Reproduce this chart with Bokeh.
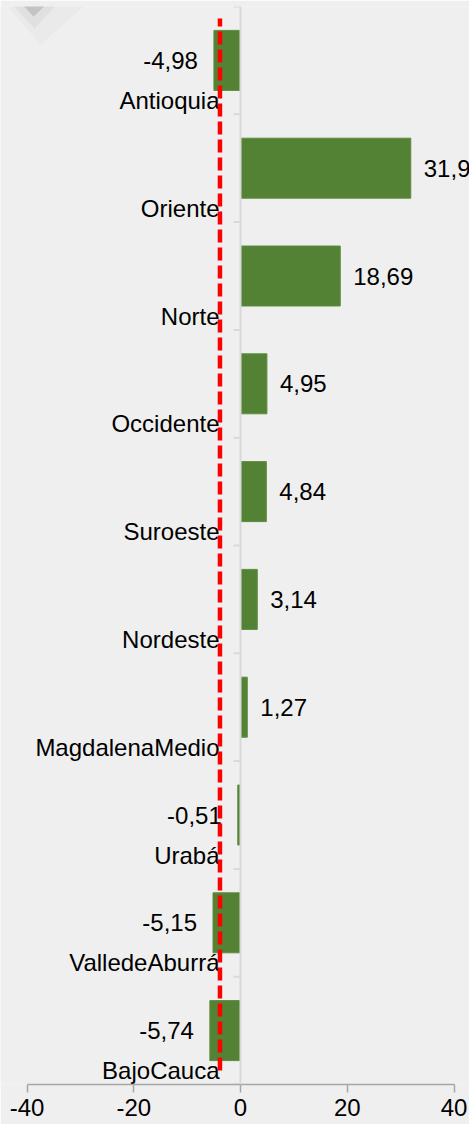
from bokeh.plotting import figure
from bokeh.models import ColumnDataSource, Range1d, FixedTicker, Span
from bokeh.core.properties import value
from bokeh.embed import file_html
from bokeh.resources import INLINE

# ---- data ----
categories = ["Antioquia", "Oriente", "Norte", "Occidente", "Suroeste", "Nordeste",
              "MagdalenaMedio", "Urabá", "ValledeAburrá", "BajoCauca"]
values = [-4.98, 31.9, 18.69, 4.95, 4.84, 3.14, 1.27, -0.51, -5.15, -5.74]
x_ticks = [-40, -20, 0, 20, 40]
x_tick_labels = ["-40", "-20", "0", "20", "40"]
reference_value = -3.85

# ---- layout (screen px) ----
W, H = 469, 1124
top_px, bottom_px = 6, 1084
frame_h = bottom_px - top_px
n = len(categories)
band_px = frame_h / n
zero_px = 240
px_per_unit = 427 / 80.0
x_start = -zero_px / px_per_unit
x_end = (W - zero_px) / px_per_unit

BG = "#efefef"
FONT = "Liberation Sans"
FS = "24px"

p = figure(width=W, height=H, output_backend="svg", toolbar_location=None,
           x_range=Range1d(x_start, x_end), y_range=Range1d(0, n),
           min_border_left=0, min_border_right=0, min_border_top=top_px,
           min_border_bottom=H - bottom_px)
p.background_fill_color = BG
p.border_fill_color = BG
p.outline_line_color = None
p.grid.visible = False
p.yaxis.visible = False

ax = p.xaxis[0]
ax.ticker = FixedTicker(ticks=x_ticks)
ax.major_label_overrides = {t: s for t, s in zip(x_ticks, x_tick_labels)}
ax.bounds = (x_ticks[0], x_ticks[-1])
ax.axis_line_color = "#a6a6a6"
ax.axis_line_width = 1.5
ax.major_tick_line_color = "#a6a6a6"
ax.major_tick_line_width = 1.5
ax.major_tick_out = 8
ax.major_tick_in = 0
ax.minor_tick_line_color = None
ax.major_label_text_font = FONT
ax.major_label_text_font_size = FS
ax.major_label_text_color = "#000000"
ax.major_label_standoff = 6

def sx(v):
    return (v - zero_px) / px_per_unit
def sy(v):
    return n - (v - top_px) / band_px

# decorative faint shape at top-left
p.patch([sx(2), sx(90), sx(40)], [sy(0), sy(0), sy(44)], color="#e2e2e2", alpha=0.35, line_color=None)
p.patch([sx(8), sx(60), sx(34)], [sy(0), sy(0), sy(28)], color="#d2d2d2", alpha=0.4, line_color=None)
p.patch([sx(18), sx(50), sx(33)], [sy(0), sy(0), sy(16)], color="#a8a8a8", alpha=0.5, line_color=None)

# vertical zero axis line and its ticks
p.add_layout(Span(location=0, dimension="height", line_color="#d9d9d9", line_width=2))
bounds_y = list(range(n + 1))
p.segment(x0=[-7 / px_per_unit] * len(bounds_y), x1=[0] * len(bounds_y),
          y0=bounds_y, y1=bounds_y, line_color="#d9d9d9", line_width=2)

yc = [n - i - 0.5 for i in range(n)]
src = ColumnDataSource(dict(y=yc, v=values, cat=categories,
                            cat_y=[y - 40 / band_px for y in yc]))

p.hbar(y="y", right="v", left=0, height=60 / band_px, source=src,
       fill_color="#548235", line_color="#5e8c3e", line_width=1)

p.text(x=0, y="cat_y", text="cat", source=src, x_offset=-21,
       text_align="right", text_baseline="middle",
       text_font=value(FONT), text_font_size=FS, text_color="#000000")

neg = ColumnDataSource(dict(x=[v for v in values if v < 0], y=[y for y, v in zip(yc, values) if v < 0],
                            t=[str(v).replace(".", ",") for v in values if v < 0]))
pos = ColumnDataSource(dict(x=[v for v in values if v >= 0], y=[y for y, v in zip(yc, values) if v >= 0],
                            t=[str(v).replace(".", ",") for v in values if v >= 0]))
p.text(x="x", y="y", text="t", source=neg, x_offset=-16, text_align="right", text_baseline="middle",
       text_font=value(FONT), text_font_size=FS, text_color="#000000")
p.text(x="x", y="y", text="t", source=pos, x_offset=13, text_align="left", text_baseline="middle",
       text_font=value(FONT), text_font_size=FS, text_color="#000000")

# red dashed reference line
p.segment(x0=[reference_value], x1=[reference_value], y0=[sy(1070)], y1=[sy(18)],
          line_color="#ff0000", line_width=4.5, line_dash="13 5")

open("out.html", "w").write(file_html(p, INLINE))
